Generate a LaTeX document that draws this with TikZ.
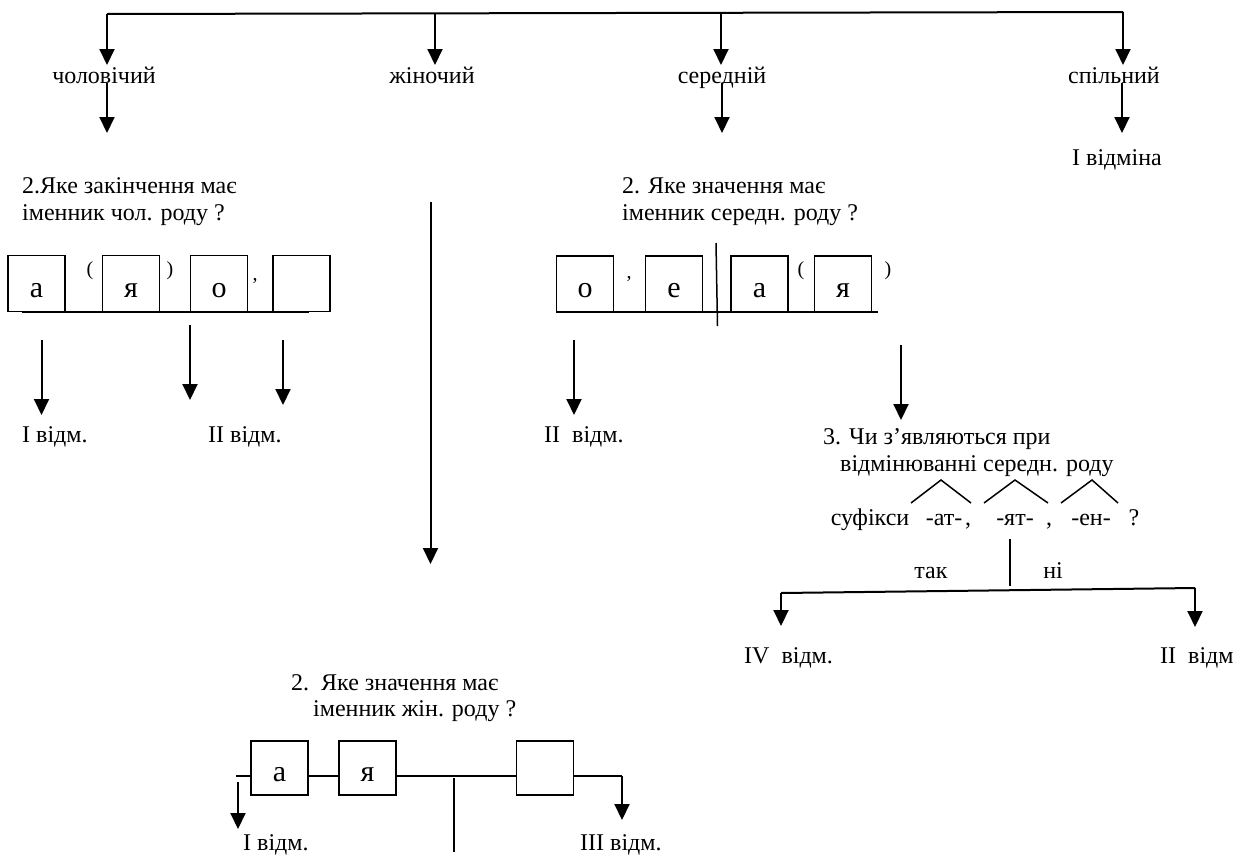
\documentclass[tikz,border=0pt]{standalone}
\usepackage{fontspec}
\setmainfont{Liberation Serif}
\usetikzlibrary{arrows.meta}
\begin{document}
\begin{tikzpicture}[x=1pt,y=-1pt,
  lbl/.style={inner sep=0pt,font=\fontsize{24}{28}\selectfont,anchor=base},
  lblw/.style={lbl,anchor=base west},
  lbox/.style={draw,line width=1.3pt,minimum width=57pt,minimum height=56pt,inner sep=0pt,
    text height=27pt,text depth=0pt,font=\fontsize{30}{34}\selectfont},
  sbox/.style={lbox,minimum height=54pt},
  punct/.style={inner sep=0pt,font=\fontsize{20}{24}\selectfont},
  arr/.style={line width=2pt,-{Triangle[width=15pt,length=16pt]}},
  ln/.style={line width=1.5pt},
  thick line/.style={line width=2pt}]
\useasboundingbox (0,0) rectangle (1237,857);

% ---------- top bar ----------
\coordinate (t0) at (107,14);
\coordinate (t1) at (435,13.5);
\coordinate (t2) at (721,13);
\coordinate (t3) at (1123,12);
\draw[thick line] (t0) -- (t3);
\coordinate (h0) at (107,65);
\coordinate (h1) at (435,65);
\coordinate (h2) at (721,65);
\coordinate (h3) at (1123,65);
\draw[arr] (t0) -- (h0);
\draw[arr] (t1) -- (h1);
\draw[arr] (t2) -- (h2);
\draw[arr] (t3) -- (h3);

\node[lbl] (cholov) at (104,83) {чоловічий};
\node[lbl] (zhin) at (432,83) {жіночий};
\node[lbl] (sered) at (722,83) {середній};
\node[lbl] (spil) at (1114,83) {спільний};

\coordinate (u0a) at (107,83);  \coordinate (u0b) at (107,133);
\coordinate (u2a) at (722,83);  \coordinate (u2b) at (722,133);
\coordinate (u3a) at (1122,83); \coordinate (u3b) at (1122,133);
\draw[arr] (u0a) -- (u0b);
\draw[arr] (u2a) -- (u2b);
\draw[arr] (u3a) -- (u3b);

\node[lbl] (ividm) at (1117,165) {І відміна};

% ---------- masculine ----------
\node[lblw] (q1a) at (22,193) {2.Яке закінчення має};
\node[lblw] (q1b) at (22,220) {іменник чол. роду ?};

\node[lbox] (la) at (36.5,283.5) {а};
\node[lbox] (lya) at (131,283.5) {я};
\node[lbox] (lo) at (219,283.5) {о};
\node[lbox] (lem) at (301.5,283.5) {};
\node[punct] (lp1) at (90,271) {(};
\node[punct] (lp2) at (170,271) {)};
\node[punct] (lc1) at (255,281) {,};
\coordinate (lb0) at (22,311.5);
\coordinate (lb1) at (309,311.5);
\draw[thick line] (lb0) -- (lb1);

\coordinate (m1a) at (41.5,340); \coordinate (m1b) at (41.5,415);
\coordinate (m2a) at (190,325);  \coordinate (m2b) at (190,400);
\coordinate (m3a) at (283,340);  \coordinate (m3b) at (283,405);
\draw[arr] (m1a) -- (m1b);
\draw[arr] (m2a) -- (m2b);
\draw[arr] (m3a) -- (m3b);
\node[lblw] (mI) at (22,442) {І відм.};
\node[lblw] (mII) at (208,442) {ІІ відм.};

% ---------- feminine long arrow ----------
\coordinate (f0) at (430.5,202);
\coordinate (f1) at (430.5,564);
\draw[arr] (f0) -- (f1);

% ---------- neuter ----------
\node[lblw] (q2a) at (622,193) {2. Яке значення має};
\node[lblw] (q2b) at (622,220) {іменник середн. роду ?};

\node[lbox] (no) at (585,284) {о};
\node[lbox] (ne) at (674,284) {е};
\node[lbox] (na) at (759.5,284) {а};
\node[lbox] (nya) at (843,284) {я};
\node[punct] (nc1) at (629,279) {,};
\node[punct] (np1) at (801,271) {(};
\node[punct] (np2) at (888,271) {)};
\coordinate (nb0) at (577,312);
\coordinate (nb1) at (878,312);
\draw[thick line] (nb0) -- (nb1);
\coordinate (s0) at (716,243);
\coordinate (s1) at (717.5,326);
\draw[ln] (s0) -- (s1);

\coordinate (n1a) at (574,340); \coordinate (n1b) at (574,415);
\coordinate (n2a) at (901,345); \coordinate (n2b) at (901,420);
\draw[arr] (n1a) -- (n1b);
\draw[arr] (n2a) -- (n2b);
\node[lblw] (nII) at (544,442) {ІІ\ \ відм.};

\node[lblw] (q3a) at (823,444) {3. Чи з’являються при};
\node[lblw] (q3b) at (840,471) {відмінюванні середн. роду};

\node[lbl] (suf) at (870,525) {суфікси};
\node[lbl] (sat) at (944,525) {-ат-};
\node[lbl] (sc1) at (968,525) {,};
\node[lbl] (syat) at (1015,525) {-ят-};
\node[lbl] (sc2) at (1049,525) {,};
\node[lbl] (sen) at (1091,525) {-ен-};
\node[lbl] (sq) at (1134,525) {?};

\coordinate (k1a) at (911,503); \coordinate (k1b) at (941,480); \coordinate (k1c) at (971,503);
\coordinate (k2a) at (984,503); \coordinate (k2b) at (1015,480); \coordinate (k2c) at (1048,503);
\coordinate (k3a) at (1061,503); \coordinate (k3b) at (1092,480); \coordinate (k3c) at (1118,503);
\draw[ln] (k1a) -- (k1b) -- (k1c);
\draw[ln] (k2a) -- (k2b) -- (k2c);
\draw[ln] (k3a) -- (k3b) -- (k3c);

\coordinate (v0) at (1010,539);
\coordinate (v1) at (1010,586);
\draw[ln] (v0) -- (v1);
\node[lbl] (tak) at (931,578) {так};
\node[lbl] (ni) at (1053,578) {ні};

\coordinate (g0) at (781,593);
\coordinate (g1) at (1195,588);
\draw[thick line] (g0) -- (g1);
\coordinate (g0b) at (781,626);
\coordinate (g1b) at (1195,627);
\draw[arr] (g0) -- (g0b);
\draw[arr] (g1) -- (g1b);
\node[lblw] (nIV) at (744,663) {ІV\ \ відм.};
\node[lblw] (nII2) at (1160,663) {ІІ\ \ відм};

% ---------- feminine block ----------
\node[lblw] (q4a) at (291,690) {2.\ \ Яке значення має};
\node[lblw] (q4b) at (313,716) {іменник жін. роду ?};

\node[sbox] (fa) at (279.5,768) {а};
\node[sbox] (fya) at (367.5,768) {я};
\node[sbox] (fem) at (545,768) {};
\coordinate (fl0) at (236,776);
\coordinate (fr) at (622,776);
\draw[ln] (fl0) -- ([yshift=-8pt]fa.west);
\draw[ln] ([yshift=-8pt]fa.east) -- ([yshift=-8pt]fya.west);
\draw[ln] ([yshift=-8pt]fya.east) -- ([yshift=-8pt]fem.west);
\coordinate (frb) at (622,820);
\draw[ln] ([yshift=-8pt]fem.east) -- (fr);
\draw[arr] (fr) -- (frb);
\coordinate (fla) at (238,782);
\coordinate (flb) at (238,829);
\draw[arr] (fla) -- (flb);
\coordinate (fv0) at (454,778);
\coordinate (fv1) at (454,852);
\draw[ln] (fv0) -- (fv1);
\node[lblw] (fI) at (243,850) {І відм.};
\node[lblw] (fIII) at (580,850) {ІІІ відм.};
\end{tikzpicture}
\end{document}
